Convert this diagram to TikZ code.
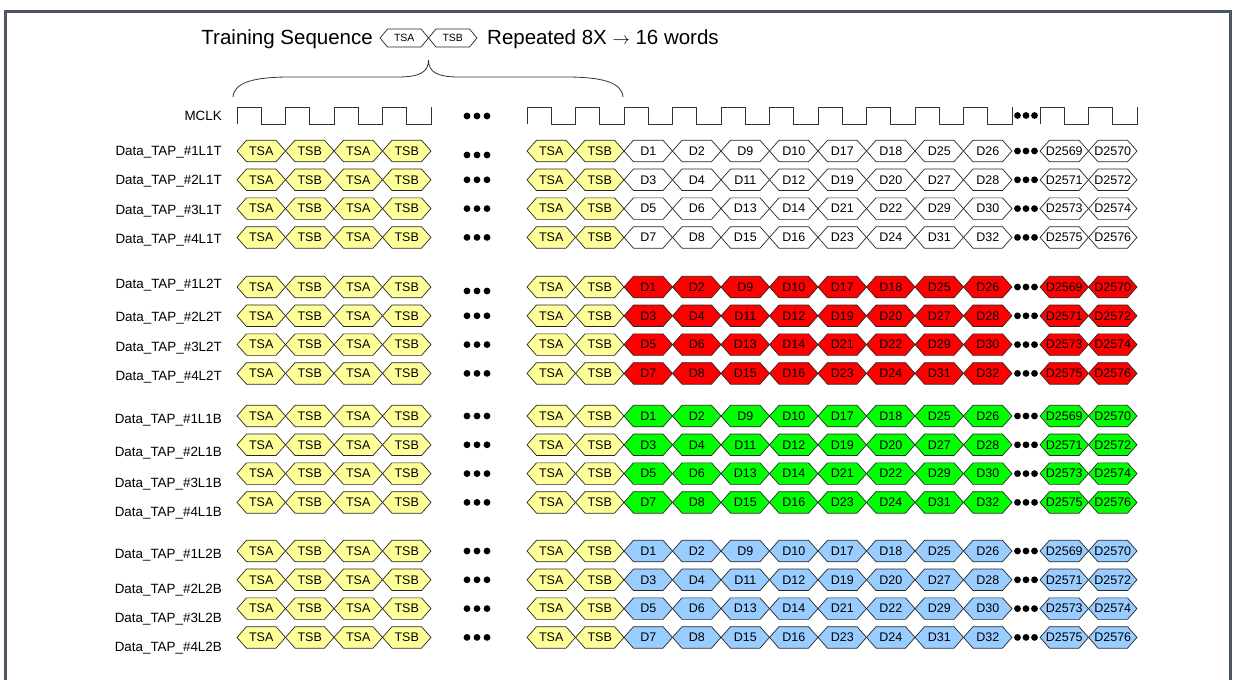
\documentclass[tikz,border=0pt]{standalone}
\usepackage{fontspec}
\setmainfont{Liberation Sans}
\usetikzlibrary{positioning}
\definecolor{frame}{HTML}{4B5662}
\definecolor{tsfill}{HTML}{FFFF99}
\definecolor{lonet}{HTML}{FFFFFF}
\definecolor{ltwot}{HTML}{FF0000}
\definecolor{loneb}{HTML}{00FF00}
\definecolor{ltwob}{HTML}{99CCFF}

\newcommand{\hexh}{10.75}
\newcommand{\hexs}{9.5}
% fill, left x, right x, y, name, text
\newcommand{\hexword}[6]{%
  \filldraw[word, fill=#1] (#2,#4) -- (#2+\hexs,#4-\hexh) -- (#3-\hexs,#4-\hexh) -- (#3,#4)
    -- (#3-\hexs,#4+\hexh) -- (#2+\hexs,#4+\hexh) -- cycle;
  \node[wordtext] (#5) at ({(#2+#3)/2},#4) {#6};}
\newcommand{\threedots}[3]{%
  \foreach \e in {-1,0,1} \fill (#1+\e*#3,#2) circle[radius=3.4pt];}

\begin{document}
\begin{tikzpicture}[x=1pt, y=-1pt,
  word/.style     = {draw=black!85, line width=0.7pt},
  wordtext/.style = {inner sep=0pt, font=\fontsize{12.5}{13}\selectfont},
  tap/.style      = {anchor=base east, inner sep=0pt, font=\fontsize{13.4}{15}\selectfont},
  title/.style    = {inner sep=0pt, font=\fontsize{20.5}{24}\selectfont},
  clk/.style      = {draw=black!80, line width=0.8pt},
  brace/.style    = {draw=black!80, line width=0.8pt},
  edge/.style     = {draw=frame, line width=2.6pt},
]
\useasboundingbox (0,0) rectangle (1237,680);
\draw[edge] (5.5,680) -- (5.5,11.5) -- (1230.5,11.5) -- (1230.5,680);

\node[title, anchor=base east] (ttl) at (373,44) {Training Sequence};
\begin{scope}
  \renewcommand{\hexh}{9}\renewcommand{\hexs}{7.5}
  \tikzset{wordtext/.append style={font=\fontsize{10.5}{11}\selectfont}}
  \hexword{white}{380}{428.5}{38}{tta}{TSA}
  \hexword{white}{428.5}{477}{38}{ttb}{TSB}
\end{scope}
\node[title, anchor=base west] (rep) at (487,44) {Repeated 8X {\fontsize{16}{16}\selectfont$\rightarrow$} 16 words};

\draw[brace] (233,97) .. controls (234,82) and (255,77) .. (290,77) -- (398,77)
  .. controls (420,77) and (428.5,72) .. (428.5,60)
  .. controls (428.5,72) and (437,77) .. (459,77) -- (566,77)
  .. controls (601,77) and (622,82) .. (623,97);

\node[tap] (mclk) at (222,120.5) {MCLK};
\draw[clk] (237,124) \foreach \i in {0,...,3} { -- (237+48.5*\i,107) -- (261.25+48.5*\i,107)
  -- (261.25+48.5*\i,124) -- (285.5+48.5*\i,124) } -- (431,107);
\threedots{477}{116}{10}
\draw[clk] (527,124) \foreach \i in {0,...,9} { -- (527+48.5*\i,107) -- (551.25+48.5*\i,107)
  -- (551.25+48.5*\i,124) -- (575.5+48.5*\i,124) } -- (1012,107);
\threedots{1026}{115.5}{8.5}
\draw[clk] (1040,124) \foreach \i in {0,1} { -- (1040+48.5*\i,107) -- (1064.25+48.5*\i,107)
  -- (1064.25+48.5*\i,124) -- (1088.5+48.5*\i,124) } -- (1137,107);

\foreach \g/\sfx/\col/\gy/\oa/\ob/\oc/\od in
  {1/L1T/lonet/151/0/0/1/1, 2/L2T/ltwot/287/-3/1/2/2,
   3/L1B/loneb/416/3/7/9/9, 4/L2B/ltwob/551/3/9/9/9} {
  \foreach \r in {1,...,4} {
    \pgfmathsetmacro\yy{\gy+28.8*(\r-1)}
    \pgfmathsetmacro\lo{{\oa,\ob,\oc,\od}[\r-1]}
    \pgfmathsetmacro\dy{(\r==1 && \g<3) ? 4 : 0}
    \node[tap] (lab-\g-\r) at (222,\yy+\lo+4.8) {Data\_TAP\_\#\r\sfx};
    \foreach \w [count=\i from 0] in {TSA,TSB,TSA,TSB}
      \hexword{tsfill}{237+48.5*\i}{285.5+48.5*\i}{\yy}{ts-\g-\r-\i}{\w};
    \threedots{477}{\yy+\dy}{10}
    \foreach \w [count=\i from 0] in {TSA,TSB}
      \hexword{tsfill}{527+48.5*\i}{575.5+48.5*\i}{\yy}{tb-\g-\r-\i}{\w};
    \foreach \i in {0,...,7} {
      \pgfmathtruncatemacro\num{2*\r-1+mod(\i,2)+8*floor(\i/2)}
      \hexword{\col}{624+48.5*\i}{672.5+48.5*\i}{\yy}{d-\g-\r-\i}{D\num}
    }
    \threedots{1026}{\yy}{8.5}
    \foreach \i in {0,1} {
      \pgfmathtruncatemacro\num{2567+2*\r+\i}
      \hexword{\col}{1040+48.5*\i}{1088.5+48.5*\i}{\yy}{e-\g-\r-\i}{D\num}
    }
  }
}
\end{tikzpicture}
\end{document}
